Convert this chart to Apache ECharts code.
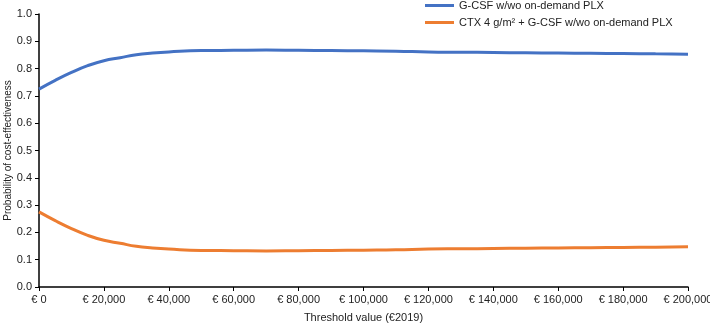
<!DOCTYPE html>
<html>
<head>
<meta charset="utf-8">
<script src="https://cdn.jsdelivr.net/npm/echarts@6/dist/echarts.min.js"></script>
<style>
  html, body { margin: 0; padding: 0; background: #fff; }
  #chart { width: 710px; height: 326px; }
</style>
</head>
<body>
<div id="chart"></div>
<script>
// threshold values (€)
var thresholds = [0, 5000, 10000, 15000, 20000, 25000, 30000, 35000, 40000, 50000, 60000, 70000, 80000,
  90000, 100000, 110000, 120000, 130000, 140000, 150000, 160000, 170000, 180000, 190000, 200000];
var gcsf = [0.725, 0.757, 0.786, 0.811, 0.829, 0.840, 0.851, 0.857, 0.861, 0.866, 0.867, 0.868, 0.867,
  0.866, 0.865, 0.864, 0.861, 0.860, 0.859, 0.858, 0.857, 0.856, 0.855, 0.854, 0.853];
var ctx = [0.275, 0.243, 0.214, 0.189, 0.171, 0.160, 0.149, 0.143, 0.139, 0.134, 0.133, 0.132, 0.133,
  0.134, 0.135, 0.136, 0.139, 0.140, 0.141, 0.142, 0.143, 0.144, 0.145, 0.146, 0.147];
var seriesNames = ['G-CSF w/wo on-demand PLX', 'CTX 4 g/m\u00B2 + G-CSF w/wo on-demand PLX'];

function pairs(xs, ys) {
  var out = [];
  for (var i = 0; i < xs.length; i++) out.push([xs[i], ys[i]]);
  return out;
}

var myChart = echarts.init(document.getElementById('chart'));
var font = 'Liberation Sans, Arial, sans-serif';

var option = {
  backgroundColor: '#fff',
  animation: false,
  textStyle: { fontFamily: font },
  grid: { left: 39, right: 22, top: 14, bottom: 39, outerBoundsMode: 'none', containLabel: false },
  legend: {
    orient: 'vertical',
    left: 425,
    top: 0,
    padding: 0,
    itemWidth: 29,
    itemHeight: 3,
    itemGap: 6,
    icon: 'rect',
    textStyle: { color: '#222', fontSize: 11, fontFamily: font },
    data: seriesNames
  },
  xAxis: {
    type: 'value',
    min: 0,
    max: 200000,
    interval: 20000,
    name: 'Threshold value (\u20AC2019)',
    nameLocation: 'middle',
    nameGap: 25,
    nameMoveOverlap: false,
    nameTextStyle: { color: '#222', fontSize: 11 },
    axisLine: { lineStyle: { color: '#000', width: 1.5 } },
    axisTick: { show: true, length: 4, lineStyle: { color: '#000' } },
    axisLabel: {
      color: '#222', fontSize: 11, margin: 7,
      formatter: function (v) { return '\u20AC ' + v.toLocaleString('en-US'); }
    },
    splitLine: { show: false }
  },
  yAxis: {
    type: 'value',
    min: 0,
    max: 1,
    interval: 0.1,
    name: 'Probability of cost-effectiveness',
    nameLocation: 'middle',
    nameGap: 26,
    nameMoveOverlap: false,
    nameTextStyle: { color: '#222', fontSize: 10 },
    axisLine: { show: true, lineStyle: { color: '#000', width: 1.5 } },
    axisTick: { show: true, length: 4, lineStyle: { color: '#000' } },
    axisLabel: {
      color: '#222', fontSize: 11, margin: 7,
      formatter: function (v) { return v.toFixed(1); }
    },
    splitLine: { show: false }
  },
  series: [
    {
      name: seriesNames[0],
      type: 'line',
      smooth: true,
      symbol: 'none',
      color: '#4472C4',
      lineStyle: { width: 3, color: '#4472C4' },
      data: pairs(thresholds, gcsf)
    },
    {
      name: seriesNames[1],
      type: 'line',
      smooth: true,
      symbol: 'none',
      color: '#ED7D31',
      lineStyle: { width: 3, color: '#ED7D31' },
      data: pairs(thresholds, ctx)
    }
  ]
};

myChart.setOption(option);
</script>
</body>
</html>
